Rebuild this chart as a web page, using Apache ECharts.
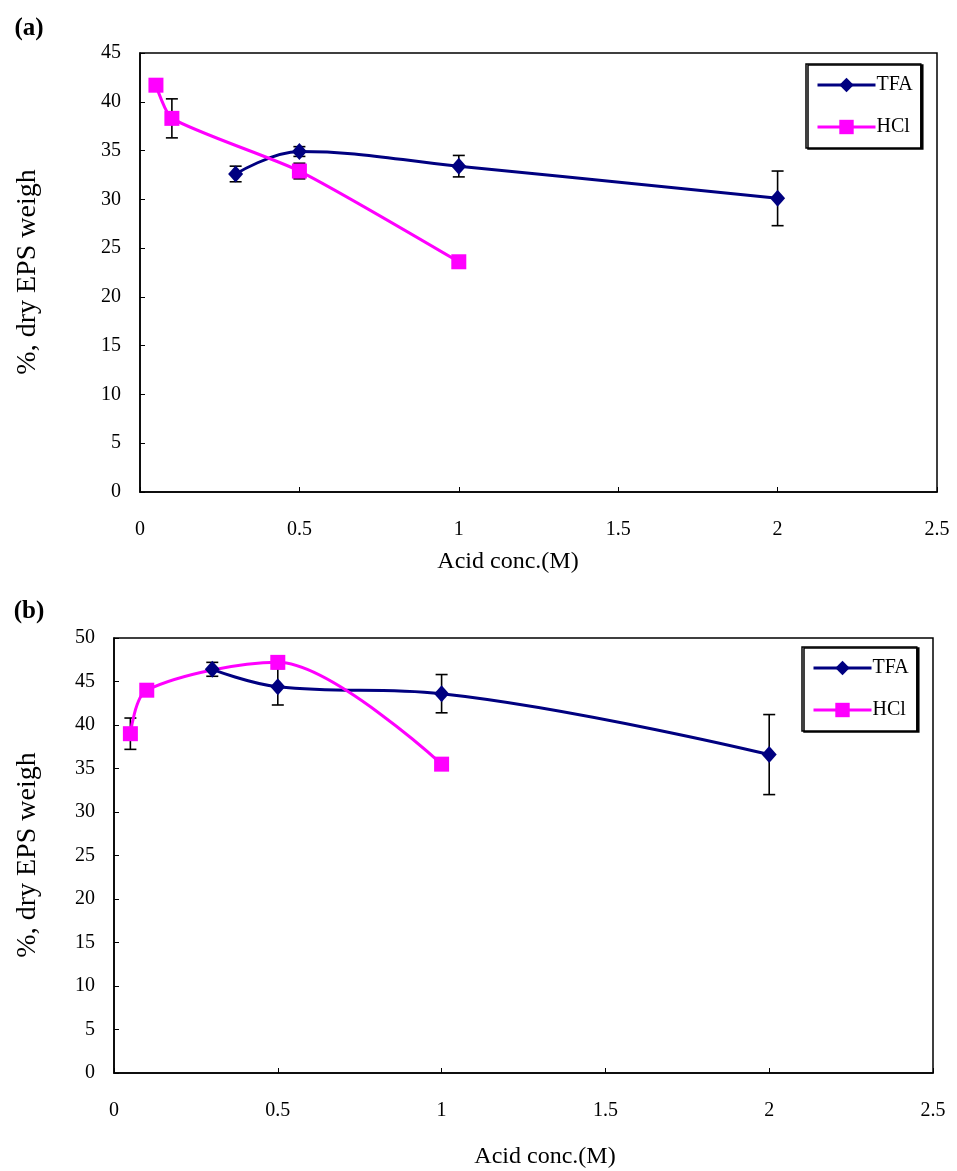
<!DOCTYPE html>
<html>
<head>
<meta charset="utf-8">
<script src="https://cdn.jsdelivr.net/npm/echarts@6/dist/echarts.min.js"></script>
<style>
  html, body { margin: 0; padding: 0; background: #fff; }
  #chart { width: 957px; height: 1171px; }
</style>
</head>
<body>
<div id="chart"></div>
<script>
// 数据
var xTFA = [0.3, 0.5, 1, 2];
var xHCl = [0.05, 0.1, 0.5, 1];

// (a)
var aTFA = [32.6, 34.9, 33.4, 30.1];
var aTFAErr = [0.8, 0.5, 1.1, 2.8];
var aHCl = [41.7, 38.3, 32.9, 23.6];
var aHClErr = [0, 2.0, 0.8, 0.6];

// (b)
var bTFA = [46.4, 44.4, 43.6, 36.6];
var bTFAErr = [0.8, 2.1, 2.2, 4.6];
var bHCl = [39.0, 44.0, 47.2, 35.5];
var bHClErr = [1.8, 0, 0, 0];

var xTicks = [0, 0.5, 1, 1.5, 2, 2.5];

var serif = 'Liberation Serif';
var navy = '#000080';
var pink = '#ff00ff';

function pts(xs, ys) {
    return xs.map(function (x, i) { return [x, ys[i]]; });
}

// 误差线
function errBars(xs, ys, errs, idx) {
    return {
        type: 'custom',
        name: 'err',
        xAxisIndex: idx,
        yAxisIndex: idx,
        silent: true,
        z: 1,
        data: xs.map(function (x, i) { return [x, ys[i] - errs[i], ys[i] + errs[i]]; }),
        encode: { x: 0, y: [1, 2] },
        renderItem: function (params, api) {
            var lo = api.coord([api.value(0), api.value(1)]);
            var hi = api.coord([api.value(0), api.value(2)]);
            if (Math.abs(lo[1] - hi[1]) < 1) return null;
            var w = 6;
            var st = { stroke: '#000', lineWidth: 1.6 };
            return {
                type: 'group',
                children: [
                    { type: 'line', shape: { x1: lo[0], y1: lo[1], x2: hi[0], y2: hi[1] }, style: st },
                    { type: 'line', shape: { x1: lo[0] - w, y1: lo[1], x2: lo[0] + w, y2: lo[1] }, style: st },
                    { type: 'line', shape: { x1: hi[0] - w, y1: hi[1], x2: hi[0] + w, y2: hi[1] }, style: st }
                ]
            };
        }
    };
}

function lineSeries(name, xs, ys, idx, color, symbol, size, smooth) {
    return {
        type: 'line',
        name: name,
        xAxisIndex: idx,
        yAxisIndex: idx,
        data: pts(xs, ys),
        smooth: smooth,
        symbol: symbol,
        symbolSize: size,
        z: 3,
        lineStyle: { color: color, width: 3 },
        itemStyle: { color: color }
    };
}

function xAx(idx) {
    return {
        type: 'value', gridIndex: idx, min: 0, max: 2.5, interval: 0.5,
        splitLine: { show: false },
        axisLine: { lineStyle: { color: '#000', width: 1.5 } },
        axisTick: { inside: true, length: 5, lineStyle: { color: '#000' } },
        axisLabel: { color: '#000', fontFamily: serif, fontSize: 20, margin: 28 }
    };
}

function yAx(idx, max) {
    return {
        type: 'value', gridIndex: idx, min: 0, max: max, interval: 5,
        splitLine: { show: false },
        axisLine: { show: true, lineStyle: { color: '#000', width: 1.5 } },
        axisTick: { inside: true, length: 5, lineStyle: { color: '#000' } },
        axisLabel: { color: '#000', fontFamily: serif, fontSize: 20, margin: 19 }
    };
}

function legendBox(left, top) {
    return {
        left: left, top: top, orient: 'vertical',
        data: ['TFA', 'HCl'],
        itemWidth: 58, itemHeight: 18, itemGap: 22,
        padding: [11, 8, 11, 10],
        borderColor: '#000', borderWidth: 1.5,
        backgroundColor: '#fff',
        shadowColor: '#000', shadowOffsetX: 2, shadowOffsetY: 1, shadowBlur: 0,
        lineStyle: { width: 3 },
        textStyle: { fontFamily: serif, fontSize: 20, color: '#000', padding: [0, 0, 0, -4] }
    };
}

function txt(x, y, s, size, rot, weight) {
    return {
        type: 'text', x: x, y: y, rotation: rot || 0,
        style: {
            text: s, fill: '#000', font: (weight || 'normal') + ' ' + size + 'px "' + serif + '"',
            align: 'center', verticalAlign: 'middle'
        }
    };
}

var chart = echarts.init(document.getElementById('chart'));
chart.setOption({
    backgroundColor: '#fff',
    animation: false,
    grid: [
        { left: 140, top: 53, width: 797, height: 439, show: true, borderColor: '#000', borderWidth: 1.5, backgroundColor: 'transparent' },
        { left: 114, top: 638, width: 819, height: 435, show: true, borderColor: '#000', borderWidth: 1.5, backgroundColor: 'transparent' }
    ],
    xAxis: [xAx(0), xAx(1)],
    yAxis: [yAx(0, 45), yAx(1, 50)],
    legend: [legendBox(806, 64), legendBox(802, 647)],
    graphic: [
        txt(29, 29, '(a)', 25, 0, 'bold'),
        txt(29, 612, '(b)', 25, 0, 'bold'),
        txt(28, 272, '%, dry EPS weigh', 28, Math.PI / 2),
        txt(28, 855, '%, dry EPS weigh', 28, Math.PI / 2),
        txt(508, 562, 'Acid conc.(M)', 24),
        txt(545, 1157, 'Acid conc.(M)', 24)
    ],
    series: [
        errBars(xTFA, aTFA, aTFAErr, 0),
        errBars(xHCl, aHCl, aHClErr, 0),
        lineSeries('TFA', xTFA, aTFA, 0, navy, 'diamond', [15, 17], 0.4),
        lineSeries('HCl', xHCl, aHCl, 0, pink, 'rect', 15, 0.2),
        errBars(xTFA, bTFA, bTFAErr, 1),
        errBars(xHCl, bHCl, bHClErr, 1),
        lineSeries('TFA', xTFA, bTFA, 1, navy, 'diamond', [15, 17], 0.4),
        lineSeries('HCl', xHCl, bHCl, 1, pink, 'rect', 15, 0.3)
    ]
});
</script>
</body>
</html>
